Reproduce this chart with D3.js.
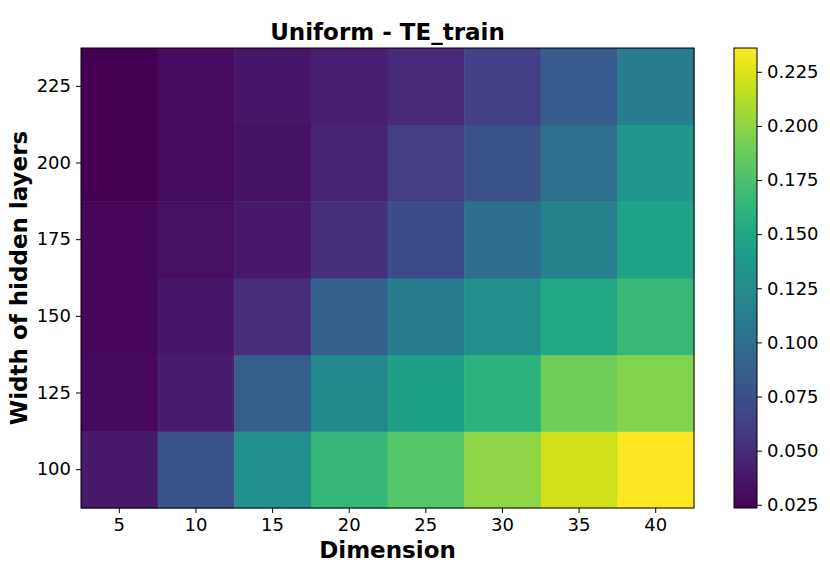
<!DOCTYPE html>
<html>
<head>
<meta charset="utf-8">
<script src="https://cdn.jsdelivr.net/npm/d3@7"></script>
<style>
  body { margin: 0; background: #fff; }
  text { font-family: "DejaVu Sans", sans-serif; fill: #000; }
</style>
</head>
<body>
<svg id="chart" width="830" height="587"></svg>
<script>
const dims = [5, 10, 15, 20, 25, 30, 35, 40];
const widths = [100, 125, 150, 175, 200, 225];
// values per hidden-layer width (rows), one value per dimension (columns)
const row100 = [0.038, 0.077, 0.130, 0.164, 0.179, 0.200, 0.221, 0.236];
const row125 = [0.028, 0.040, 0.087, 0.123, 0.145, 0.160, 0.189, 0.196];
const row150 = [0.027, 0.036, 0.051, 0.089, 0.111, 0.130, 0.151, 0.166];
const row175 = [0.026, 0.032, 0.038, 0.053, 0.072, 0.100, 0.115, 0.147];
const row200 = [0.024, 0.030, 0.034, 0.045, 0.062, 0.077, 0.102, 0.136];
const row225 = [0.0235, 0.030, 0.036, 0.042, 0.049, 0.064, 0.085, 0.111];
const colorTicks = [0.025, 0.050, 0.075, 0.100, 0.125, 0.150, 0.175, 0.200, 0.225];

const rows = [row100, row125, row150, row175, row200, row225];
const cells = [];
widths.forEach((w, i) => dims.forEach((d, j) => cells.push({w, d, v: rows[i][j]})));

const vmin = d3.min(cells, c => c.v), vmax = d3.max(cells, c => c.v);

const svg = d3.select("#chart");
const L = 81, R = 694, T = 48, B = 508;

const x = d3.scaleBand().domain(dims).range([L, R]).padding(0);
const y = d3.scaleBand().domain(widths).range([B, T]).padding(0);
const color = d3.scaleSequential(d3.interpolateViridis).domain([vmin, vmax]);

svg.append("g").selectAll("rect").data(cells).join("rect")
  .attr("x", c => x(c.d))
  .attr("y", c => y(c.w))
  .attr("width", x.bandwidth() + 0.5)
  .attr("height", y.bandwidth() + 0.5)
  .attr("fill", c => color(c.v));

svg.append("rect").attr("x", L).attr("y", T).attr("width", R - L).attr("height", B - T)
  .attr("fill", "none").attr("stroke", "#000").attr("stroke-width", 1);

const xAxis = svg.append("g").attr("transform", `translate(0,${B})`)
  .call(d3.axisBottom(x).tickSize(5).tickPadding(5));
const yAxis = svg.append("g").attr("transform", `translate(${L},0)`)
  .call(d3.axisLeft(y).tickSize(5).tickPadding(5));
[xAxis, yAxis].forEach(a => {
  a.select(".domain").remove();
  a.selectAll("text").style("font-size", "18px").style("font-family", "DejaVu Sans");
  a.selectAll("line").attr("stroke", "#000");
});

// colorbar
const cbL = 734, cbR = 757;
const cy = d3.scaleLinear().domain([vmin, vmax]).range([B, T]);
const defs = svg.append("defs");
const grad = defs.append("linearGradient").attr("id", "vir")
  .attr("x1", 0).attr("y1", 1).attr("x2", 0).attr("y2", 0);
d3.range(0, 1.0001, 0.05).forEach(t => grad.append("stop")
  .attr("offset", t).attr("stop-color", d3.interpolateViridis(t)));
svg.append("rect").attr("x", cbL).attr("y", T).attr("width", cbR - cbL).attr("height", B - T)
  .attr("fill", "url(#vir)").attr("stroke", "#000").attr("stroke-width", 1);
const cAxis = svg.append("g").attr("transform", `translate(${cbR},0)`)
  .call(d3.axisRight(cy).tickValues(colorTicks).tickFormat(d3.format(".3f")).tickSize(5).tickPadding(5));
cAxis.select(".domain").remove();
cAxis.selectAll("text").style("font-size", "18px").style("font-family", "DejaVu Sans");

svg.append("text").attr("x", (L + R) / 2).attr("y", 40).attr("text-anchor", "middle")
  .style("font-size", "23px").style("font-weight", "bold").text("Uniform - TE_train");
svg.append("text").attr("x", (L + R) / 2).attr("y", 558).attr("text-anchor", "middle")
  .style("font-size", "23px").style("font-weight", "bold").text("Dimension");
svg.append("text").attr("transform", `translate(27,${(T + B) / 2}) rotate(-90)`).attr("text-anchor", "middle")
  .style("font-size", "23px").style("font-weight", "bold").text("Width of hidden layers");
</script>
</body>
</html>
